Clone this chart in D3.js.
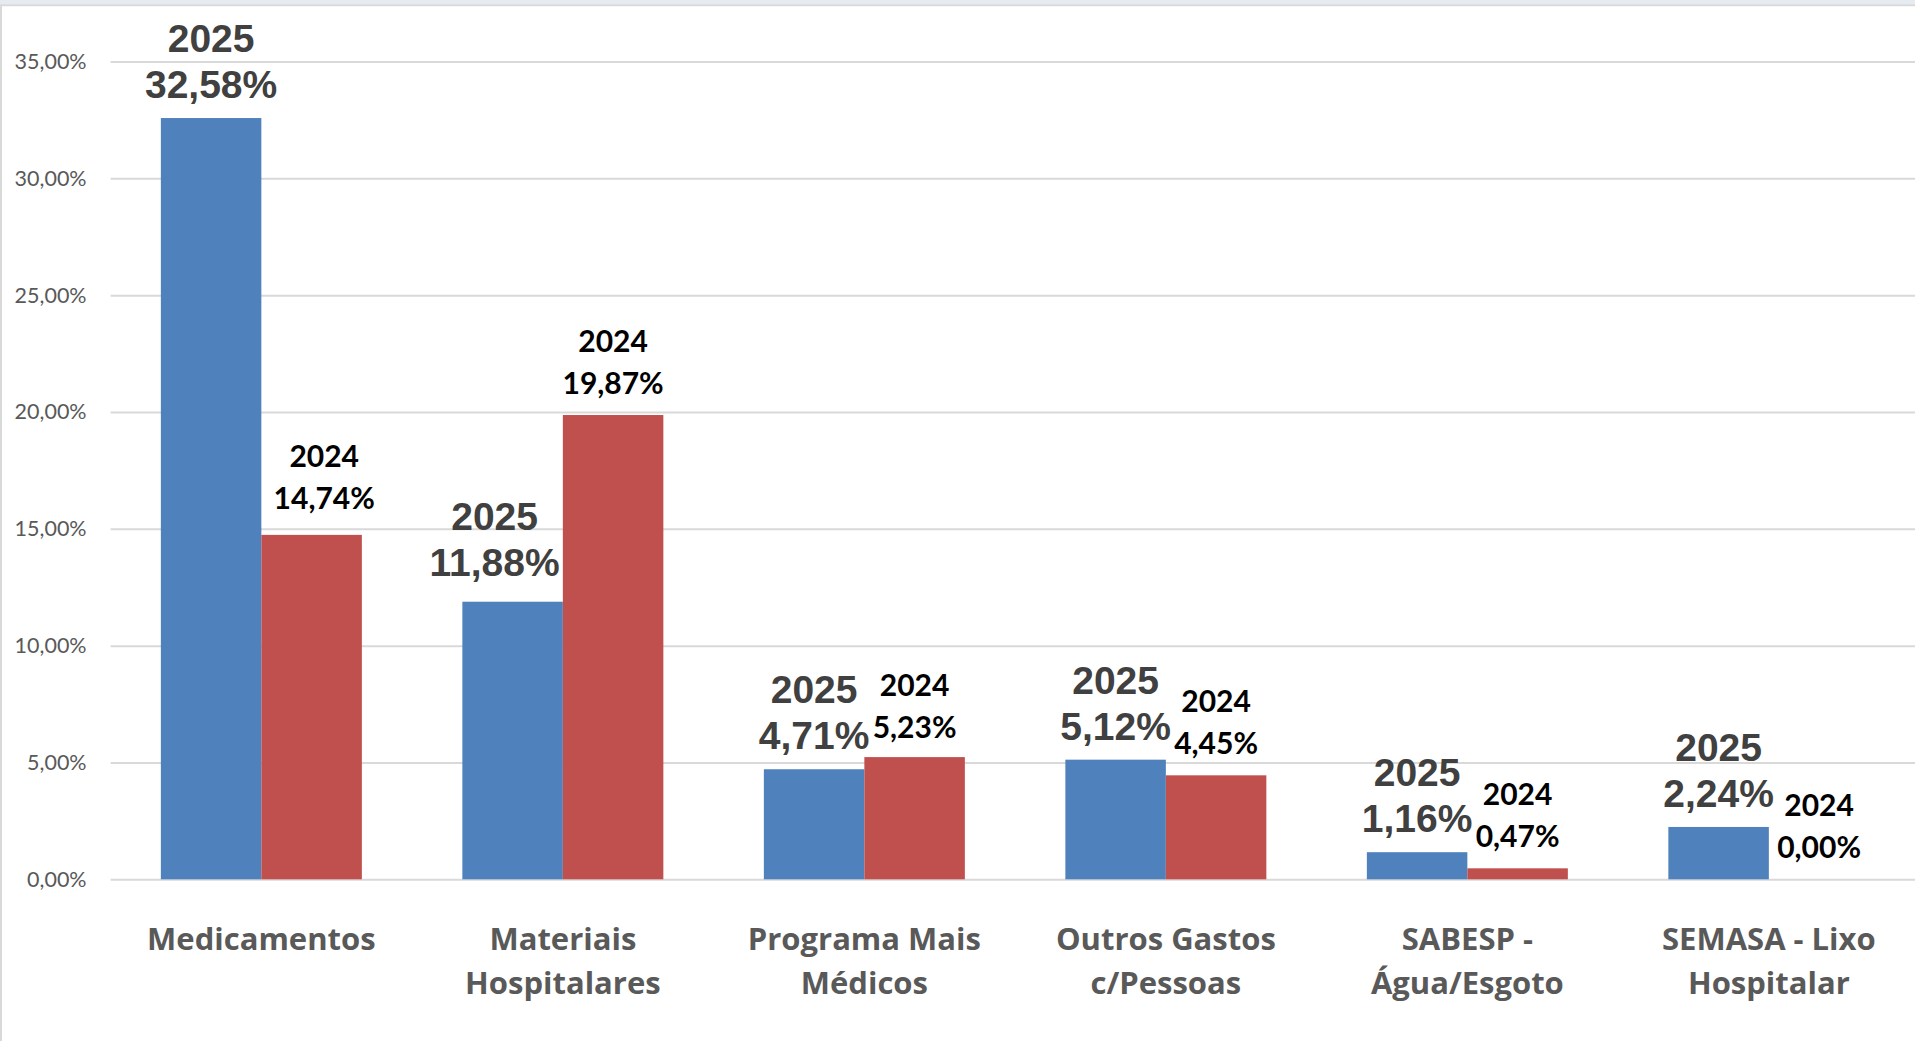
<!DOCTYPE html>
<html>
<head>
<meta charset="utf-8">
<script src="https://cdn.jsdelivr.net/npm/d3@7"></script>
<style>
  html, body { margin: 0; padding: 0; background: #ffffff; }
  svg { display: block; }
</style>
</head>
<body>
<script>
// ---------------- DATA ----------------
const categories = [
  "Medicamentos",
  "Materiais\nHospitalares",
  "Programa Mais\nMédicos",
  "Outros Gastos\nc/Pessoas",
  "SABESP -\nÁgua/Esgoto",
  "SEMASA - Lixo\nHospitalar"
];
const seriesNames = ["2025", "2024"];
const values2025 = [32.58, 11.88, 4.71, 5.12, 1.16, 2.24];
const values2024 = [14.74, 19.87, 5.23, 4.45, 0.47, 0.00];
const yTicks = [0, 5, 10, 15, 20, 25, 30, 35];

// ---------------- LAYOUT (not data) ----------------
const W = 1915, H = 1041;
const plot = { left: 110.6, right: 1919.6, top: 61.5, bottom: 879.3 };
const colors = { "2025": "#4f81bd", "2024": "#c0504d" };
// manual label nudges (dx, dy) as placed in the original
const nudge2025 = [[0, 0], [-18, -6], [0, 0], [0, 0], [0, 0], [0, 0]];
const nudge2024 = [[12.6, -5], [0, 0], [0, 2], [0, 0], [0, 0], [0, 0]];

const loc = d3.formatLocale({ decimal: ",", thousands: ".", grouping: [3], currency: ["R$", ""] });
const fmt = v => loc.format(".2f")(v) + "%";

const svg = d3.select("body").append("svg").attr("width", W).attr("height", H);

// frame
svg.append("rect").attr("x", 0).attr("y", 0).attr("width", W).attr("height", H).attr("fill", "#ffffff");
svg.append("rect").attr("x", 0).attr("y", 0).attr("width", W).attr("height", 4.5).attr("fill", "#e6ebf1");
svg.append("line").attr("x1", 0).attr("x2", W).attr("y1", 5.3).attr("y2", 5.3)
  .attr("stroke", "#d9d9d9").attr("stroke-width", 2);
svg.append("line").attr("x1", 1).attr("x2", 1).attr("y1", 5).attr("y2", H)
  .attr("stroke", "#d9d9d9").attr("stroke-width", 2);

// scales
const x = d3.scaleBand().domain(categories).range([plot.left, plot.right])
  .paddingInner(1 / 3).paddingOuter(1 / 6);
const xs = d3.scaleBand().domain(seriesNames).range([0, x.bandwidth()]);
const y = d3.scaleLinear().domain([0, 35]).range([plot.bottom, plot.top]);

// y axis with gridlines
const yAxis = d3.axisLeft(y).tickValues(yTicks).tickFormat(fmt)
  .tickSize(-(W - plot.left)).tickPadding(24);
const gy = svg.append("g").attr("transform", `translate(${plot.left},0)`).call(yAxis);
gy.select(".domain").remove();
gy.selectAll(".tick line").attr("stroke", "#d9d9d9").attr("stroke-width", 2);
gy.selectAll(".tick text")
  .attr("fill", "#595959")
  .style("font-family", "Lato, 'Open Sans', sans-serif")
  .style("font-size", "21.5px");

// bars
const rows = categories.map((c, i) => ({ cat: c, i, v2025: values2025[i], v2024: values2024[i] }));
const groups = svg.append("g").selectAll("g").data(rows).join("g")
  .attr("transform", d => `translate(${x(d.cat)},0)`);

groups.append("rect")
  .attr("x", xs("2025")).attr("width", xs.bandwidth())
  .attr("y", d => y(d.v2025)).attr("height", d => y(0) - y(d.v2025))
  .attr("fill", colors["2025"]);
groups.append("rect")
  .attr("x", xs("2024")).attr("width", xs.bandwidth())
  .attr("y", d => y(d.v2024)).attr("height", d => y(0) - y(d.v2024))
  .attr("fill", colors["2024"]);

// 2025 labels
const lab25 = groups.append("text")
  .attr("text-anchor", "middle")
  .attr("fill", "#404040")
  .style("font-family", "'Liberation Sans', Arial, sans-serif")
  .style("font-weight", "bold")
  .style("font-size", "39px");
lab25.append("tspan")
  .attr("x", d => xs("2025") + xs.bandwidth() / 2 + nudge2025[d.i][0])
  .attr("y", d => y(d.v2025) - 20 - 46 + nudge2025[d.i][1])
  .text("2025");
lab25.append("tspan")
  .attr("x", d => xs("2025") + xs.bandwidth() / 2 + nudge2025[d.i][0])
  .attr("y", d => y(d.v2025) - 20 + nudge2025[d.i][1])
  .text(d => fmt(d.v2025));

// 2024 labels
const lab24 = groups.append("text")
  .attr("text-anchor", "middle")
  .attr("fill", "#000000")
  .style("font-family", "Lato, 'Open Sans', sans-serif")
  .style("font-weight", "bold")
  .style("font-size", "30px");
lab24.append("tspan")
  .attr("x", d => xs("2024") + xs.bandwidth() / 2 + nudge2024[d.i][0])
  .attr("y", d => y(d.v2024) - 21 - 42 + nudge2024[d.i][1])
  .text("2024");
lab24.append("tspan")
  .attr("x", d => xs("2024") + xs.bandwidth() / 2 + nudge2024[d.i][0])
  .attr("y", d => y(d.v2024) - 21 + nudge2024[d.i][1])
  .text(d => fmt(d.v2024));

// category labels
const xAxis = d3.axisBottom(x).tickSize(0).tickPadding(0);
const gx = svg.append("g").attr("transform", `translate(0,${plot.bottom})`).call(xAxis);
gx.select(".domain").remove();
gx.selectAll(".tick text").each(function (d) {
  const t = d3.select(this);
  t.text(null).attr("y", 0).attr("dy", null)
    .attr("fill", "#595959")
    .style("font-family", "'Open Sans', Lato, sans-serif")
    .style("font-weight", "bold")
    .style("font-size", "31px");
  d.split("\n").forEach((line, k) => {
    t.append("tspan").attr("x", 0).attr("y", 71 + k * 43.5).text(line);
  });
});
</script>
</body>
</html>
